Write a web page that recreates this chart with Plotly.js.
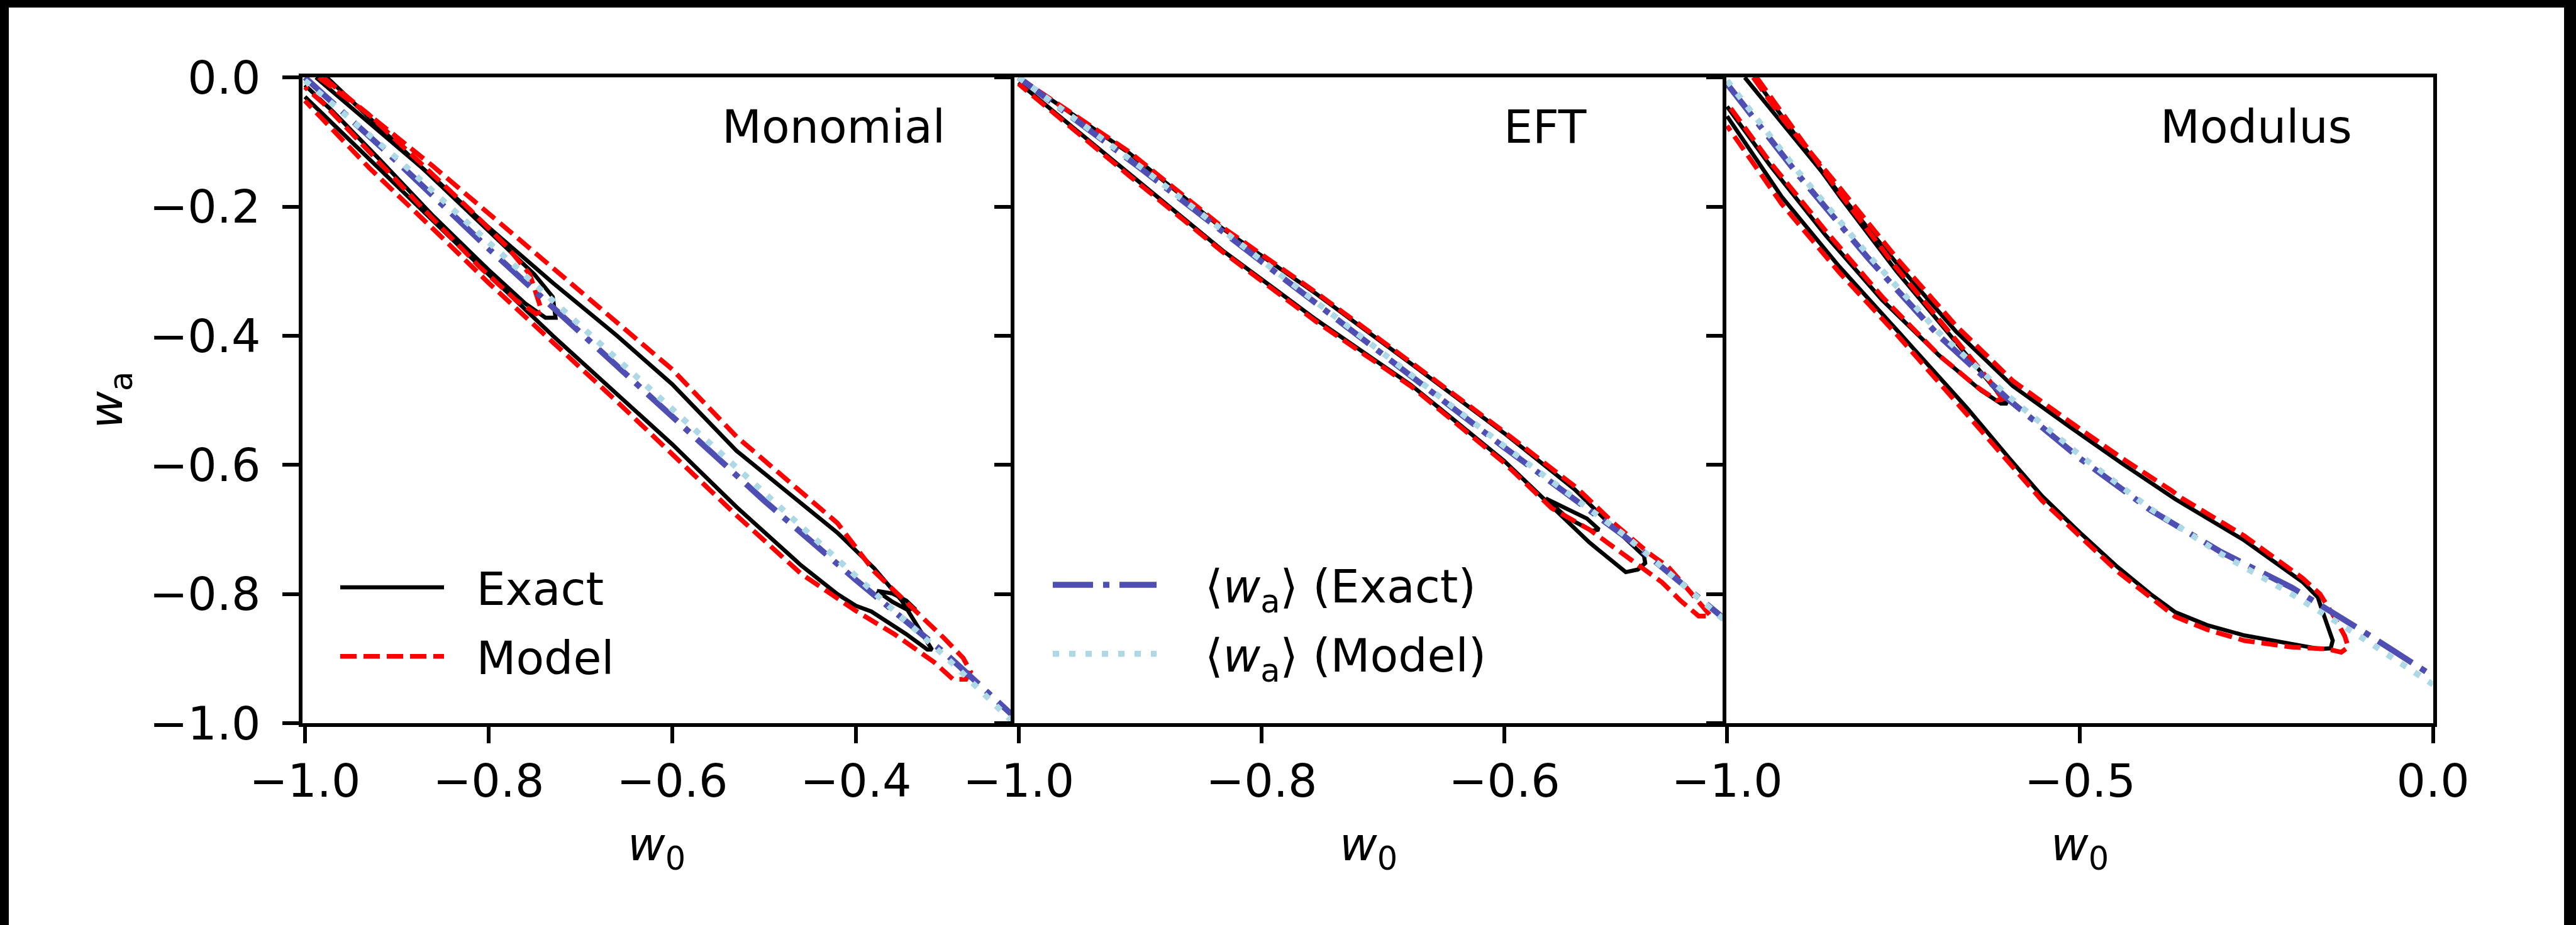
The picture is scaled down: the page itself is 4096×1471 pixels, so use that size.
<!DOCTYPE html>
<html><head><meta charset="utf-8">
<script src="https://cdn.plot.ly/plotly-3.0.1.min.js"></script>
<style>
html,body{margin:0;padding:0;background:#000;width:4096px;height:1471px;overflow:hidden;}
#plot{position:absolute;left:14px;top:12px;width:4063px;height:1459px;background:#fff;}
</style></head><body><div id="plot"></div>
<script>
// ---------- Panel 1: Monomial ----------
const monoExactOuterX = [-0.988,-0.93,-0.86,-0.80,-0.73,-0.66,-0.60,-0.53,-0.46,-0.42,-0.38,-0.35,-0.317,-0.322,-0.345,-0.37,-0.383,-0.40,-0.42,-0.46,-0.53,-0.60,-0.66,-0.73,-0.80,-0.86,-0.93,-1.0];
const monoExactOuterY = [0.0,-0.07,-0.155,-0.232,-0.318,-0.40,-0.475,-0.578,-0.658,-0.705,-0.76,-0.81,-0.886,-0.886,-0.862,-0.838,-0.827,-0.818,-0.80,-0.755,-0.665,-0.568,-0.49,-0.40,-0.305,-0.222,-0.125,-0.03];
const monoExactInnerX = [-0.976,-0.93,-0.87,-0.82,-0.78,-0.75,-0.73,-0.727,-0.738,-0.76,-0.80,-0.86,-0.92,-0.97,-1.0];
const monoExactInnerY = [0.0,-0.062,-0.142,-0.21,-0.265,-0.305,-0.34,-0.372,-0.372,-0.35,-0.298,-0.215,-0.125,-0.052,-0.012];
const monoExactBlobX = [-0.377,-0.36,-0.345,-0.337,-0.343,-0.36,-0.377];
const monoExactBlobY = [-0.795,-0.799,-0.81,-0.821,-0.825,-0.812,-0.795];
const monoModelOuterX = [-0.985,-0.93,-0.86,-0.80,-0.73,-0.66,-0.60,-0.53,-0.46,-0.42,-0.38,-0.34,-0.304,-0.283,-0.275,-0.28,-0.294,-0.315,-0.358,-0.401,-0.46,-0.53,-0.60,-0.66,-0.73,-0.80,-0.86,-0.93,-1.0];
const monoModelOuterY = [0.0,-0.058,-0.138,-0.21,-0.295,-0.378,-0.452,-0.556,-0.64,-0.69,-0.765,-0.818,-0.868,-0.899,-0.92,-0.932,-0.932,-0.905,-0.862,-0.825,-0.768,-0.678,-0.582,-0.502,-0.41,-0.318,-0.235,-0.14,-0.036];
const monoModelInnerX = [-0.98,-0.93,-0.87,-0.82,-0.78,-0.755,-0.742,-0.748,-0.77,-0.81,-0.87,-0.93,-0.98,-1.0];
const monoModelInnerY = [0.0,-0.058,-0.138,-0.205,-0.262,-0.305,-0.362,-0.366,-0.345,-0.293,-0.205,-0.115,-0.04,-0.015];
const monoMeanX = [-1.0,-0.9,-0.8,-0.7,-0.6,-0.5,-0.4,-0.3,-0.229];
const monoMeanExactY = [0.0,-0.13,-0.265,-0.395,-0.525,-0.655,-0.778,-0.895,-0.988];
const monoMeanModelY = [-0.005,-0.125,-0.255,-0.385,-0.515,-0.645,-0.772,-0.9,-0.998];

// ---------- Panel 2: EFT ----------
const eftExactOuterX = [-1.0,-0.909,-0.832,-0.755,-0.677,-0.60,-0.542,-0.515,-0.485,-0.484,-0.49,-0.50,-0.53,-0.561,-0.60,-0.677,-0.755,-0.832,-0.909,-0.96,-1.0];
const eftExactOuterY = [0.0,-0.117,-0.234,-0.335,-0.443,-0.551,-0.638,-0.688,-0.741,-0.752,-0.762,-0.766,-0.72,-0.664,-0.594,-0.476,-0.375,-0.268,-0.15,-0.07,-0.008];
const eftExactBlobX = [-0.566,-0.55,-0.532,-0.522,-0.528,-0.548,-0.566];
const eftExactBlobY = [-0.652,-0.667,-0.683,-0.70,-0.702,-0.682,-0.652];
const eftModelOuterX = [-1.0,-0.909,-0.832,-0.755,-0.677,-0.60,-0.54,-0.51,-0.48,-0.465,-0.45,-0.435,-0.43,-0.44,-0.455,-0.47,-0.50,-0.53,-0.561,-0.60,-0.677,-0.755,-0.832,-0.909,-1.0];
const eftModelOuterY = [0.0,-0.115,-0.232,-0.333,-0.441,-0.549,-0.636,-0.69,-0.738,-0.758,-0.79,-0.822,-0.834,-0.834,-0.81,-0.782,-0.742,-0.70,-0.667,-0.597,-0.478,-0.378,-0.27,-0.152,-0.01];
const eftMeanX = [-1.0,-0.9,-0.8,-0.7,-0.6,-0.5,-0.419];
const eftMeanExactY = [0.0,-0.14,-0.285,-0.43,-0.573,-0.712,-0.838];
const eftMeanModelY = [0.0,-0.138,-0.283,-0.428,-0.571,-0.71,-0.84];

// ---------- Panel 3: Modulus ----------
const modExactOuterX = [-0.975,-0.92,-0.841,-0.758,-0.676,-0.595,-0.512,-0.44,-0.365,-0.267,-0.185,-0.163,-0.158,-0.15,-0.142,-0.145,-0.16,-0.201,-0.267,-0.32,-0.365,-0.40,-0.447,-0.50,-0.554,-0.60,-0.66,-0.758,-0.841,-0.9225,-0.97,-1.0];
const modExactOuterY = [0.0,-0.074,-0.178,-0.29,-0.393,-0.478,-0.543,-0.598,-0.653,-0.717,-0.781,-0.805,-0.822,-0.845,-0.872,-0.884,-0.885,-0.877,-0.864,-0.848,-0.828,-0.80,-0.758,-0.705,-0.648,-0.59,-0.512,-0.393,-0.293,-0.185,-0.11,-0.06];
const modExactInnerX = [-0.962,-0.90,-0.84,-0.76,-0.68,-0.625,-0.603,-0.612,-0.64,-0.70,-0.78,-0.86,-0.94,-1.0];
const modExactInnerY = [0.0,-0.095,-0.185,-0.30,-0.405,-0.475,-0.505,-0.505,-0.485,-0.43,-0.345,-0.245,-0.135,-0.045];
const modModelOuterX = [-0.963,-0.92,-0.841,-0.758,-0.676,-0.595,-0.512,-0.44,-0.37,-0.355,-0.267,-0.185,-0.16,-0.14,-0.125,-0.12,-0.13,-0.15,-0.20,-0.267,-0.32,-0.365,-0.447,-0.554,-0.66,-0.758,-0.841,-0.9225,-1.0];
const modModelOuterY = [0.0,-0.066,-0.17,-0.282,-0.384,-0.47,-0.535,-0.59,-0.64,-0.652,-0.71,-0.775,-0.80,-0.835,-0.865,-0.882,-0.89,-0.885,-0.882,-0.872,-0.855,-0.835,-0.765,-0.655,-0.522,-0.40,-0.302,-0.196,-0.075];
const modModelInnerX = [-0.958,-0.90,-0.84,-0.76,-0.68,-0.628,-0.61,-0.618,-0.645,-0.70,-0.78,-0.86,-0.94,-1.0];
const modModelInnerY = [0.0,-0.09,-0.18,-0.295,-0.40,-0.47,-0.498,-0.5,-0.48,-0.43,-0.34,-0.238,-0.13,-0.04];
const modMeanX = [-1.0,-0.9,-0.8,-0.7,-0.6,-0.5,-0.4,-0.3,-0.2,-0.1,0.0];
const modMeanExactY = [-0.01,-0.15,-0.28,-0.40,-0.50,-0.59,-0.67,-0.735,-0.79,-0.857,-0.927];
const modMeanModelY = [-0.005,-0.145,-0.275,-0.395,-0.495,-0.585,-0.668,-0.738,-0.80,-0.868,-0.94];

// ---------- Text ----------
const panelNames = ["Monomial", "EFT", "Modulus"];
const xTickVals = [[-1.0,-0.8,-0.6,-0.4],[-1.0,-0.8,-0.6],[-1.0,-0.5,0.0]];
const xTickText = [["−1.0","−0.8","−0.6","−0.4"],["−1.0","−0.8","−0.6"],["−1.0","−0.5","0.0"]];
const yTickVals = [0.0,-0.2,-0.4,-0.6,-0.8,-1.0];
const yTickText = ["0.0","−0.2","−0.4","−0.6","−0.8","−1.0"];
const xRanges = [[-1.0026,-0.2312],[-1.0033,-0.4204],[-1.0012,0.0]];
const legendNames = ["Exact","Model","⟨<i>w</i><sub>a</sub>⟩ (Exact)","⟨<i>w</i><sub>a</sub>⟩ (Model)"];
const xTitle = "<i>w</i><sub>0</sub>";
const yTitle = "<i>w</i><sub>a</sub>";

// ---------- Styles ----------
const FONT = "DejaVu Sans";
const FS = 73;
const LW = 6;
const EXACT = {color:"#000000", width:6.5};
const MODEL = {color:"#ff0000", width:7.5, dash:"26px,11px"};
const MEANX = {color:"#4f4fb3", width:9.5, dash:"64px,16px,10px,16px"};
const MEANM = {color:"#add8e6", width:9.5, dash:"10px,16px"};
const PAD1 = "\u00a0\u00a0";
const PAD2 = "\u00a0\u00a0\u2005\u200a";

const W = 4063, H = 1459;
const xDom = [[467.0/W,1593.2/W],[1599.2/W,2724.8/W],[2730.8/W,3854.6/W]];
const yDom = [1-1138.2/H, 1-111.1/H];

function tr(x, y, line, p, extra) {
  const ax = p === 0 ? "" : String(p+1);
  return Object.assign({type:"scatter", mode:"lines", x:x, y:y, line:line,
    xaxis:"x"+ax, yaxis:"y"+ax, showlegend:false, hoverinfo:"skip"}, extra||{});
}

const traces = [
  tr(monoExactOuterX, monoExactOuterY, EXACT, 0, {name:PAD1+legendNames[0], showlegend:true, legend:"legend", legendgroup:"g1"}),
  tr(monoExactInnerX, monoExactInnerY, EXACT, 0),
  tr(monoExactBlobX, monoExactBlobY, EXACT, 0),
  tr(monoModelOuterX, monoModelOuterY, MODEL, 0, {name:PAD1+legendNames[1], showlegend:true, legend:"legend", legendgroup:"g2"}),
  tr(monoModelInnerX, monoModelInnerY, MODEL, 0),
  tr(monoMeanX, monoMeanExactY, MEANX, 0),
  tr(monoMeanX, monoMeanModelY, MEANM, 0),
  tr(eftExactOuterX, eftExactOuterY, EXACT, 1),
  tr(eftExactBlobX, eftExactBlobY, EXACT, 1),
  tr(eftModelOuterX, eftModelOuterY, MODEL, 1),
  tr(eftMeanX, eftMeanExactY, MEANX, 1, {name:PAD2+legendNames[2], showlegend:true, legend:"legend2", legendgroup:"g3"}),
  tr(eftMeanX, eftMeanModelY, MEANM, 1, {name:PAD2+legendNames[3], showlegend:true, legend:"legend2", legendgroup:"g4"}),
  tr(modExactOuterX, modExactOuterY, EXACT, 2),
  tr(modExactInnerX, modExactInnerY, EXACT, 2),
  tr(modModelOuterX, modModelOuterY, MODEL, 2),
  tr(modModelInnerX, modModelInnerY, MODEL, 2),
  tr(modMeanX, modMeanExactY, MEANX, 2),
  tr(modMeanX, modMeanModelY, MEANM, 2)
];

const legendStyle = {xanchor:"left", yanchor:"top", bgcolor:"rgba(0,0,0,0)",
  font:{family:FONT, size:FS, color:"#000"}, itemwidth:165, tracegroupgap:12, traceorder:"grouped"};

const layout = {
  width: W, height: H,
  margin: {l:0, r:0, t:0, b:0},
  paper_bgcolor: "#ffffff", plot_bgcolor: "#ffffff",
  font: {family: FONT, size: FS, color: "#000"},
  showlegend: true,
  legend: Object.assign({x: 522/W, y: 1-868/H}, legendStyle),
  legend2: Object.assign({x: 1655/W, y: 1-864/H}, legendStyle),
  annotations: [],
};

for (let p = 0; p < 3; p++) {
  const ax = p === 0 ? "" : String(p+1);
  layout["xaxis"+ax] = {
    domain: xDom[p], range: xRanges[p], anchor: "y"+ax,
    showline: true, mirror: true, linecolor: "#000", linewidth: LW,
    ticks: "outside", ticklen: 26, tickwidth: LW, tickcolor: "#000",
    ticklabelstandoff: -3,
    tickvals: xTickVals[p], ticktext: xTickText[p], showgrid: false, zeroline: false,
    tickfont: {family: FONT, size: FS, color: "#000"}, fixedrange: true
  };
  const yax = {
    domain: yDom, range: [-1, 0], anchor: "x"+ax,
    showline: true, mirror: true, linecolor: "#000", linewidth: LW,
    ticks: "outside", ticklen: 26, tickwidth: LW, tickcolor: "#000",
    tickvals: yTickVals, showticklabels: p === 0,
    showgrid: false, zeroline: false,
    tickfont: {family: FONT, size: FS, color: "#000"}, fixedrange: true
  };
  if (p === 0) { yax.ticktext = yTickText; yax.ticklabelstandoff = 20; }
  layout["yaxis"+ax] = yax;
  layout.annotations.push({
    text: panelNames[p], xref: "x"+ax+" domain", yref: "y"+ax+" domain",
    x: 0.75, y: 0.924, xanchor: "center", yanchor: "middle", showarrow: false,
    font: {family: FONT, size: FS, color: "#000"}
  });
  layout.annotations.push({
    text: xTitle, xref: "x"+ax+" domain", yref: "paper",
    x: 0.5, y: 1-1335/H, xanchor: "center", yanchor: "middle", showarrow: false,
    font: {family: FONT, size: FS, color: "#000"}
  });
}
layout.annotations.push({
  text: yTitle, xref: "paper", yref: "y domain", x: 160/W, y: 0.5,
  xanchor: "center", yanchor: "middle", textangle: -90, showarrow: false,
  font: {family: FONT, size: FS, color: "#000"}
});

Plotly.newPlot("plot", traces, layout, {staticPlot: true, displayModeBar: false});
</script></body></html>
